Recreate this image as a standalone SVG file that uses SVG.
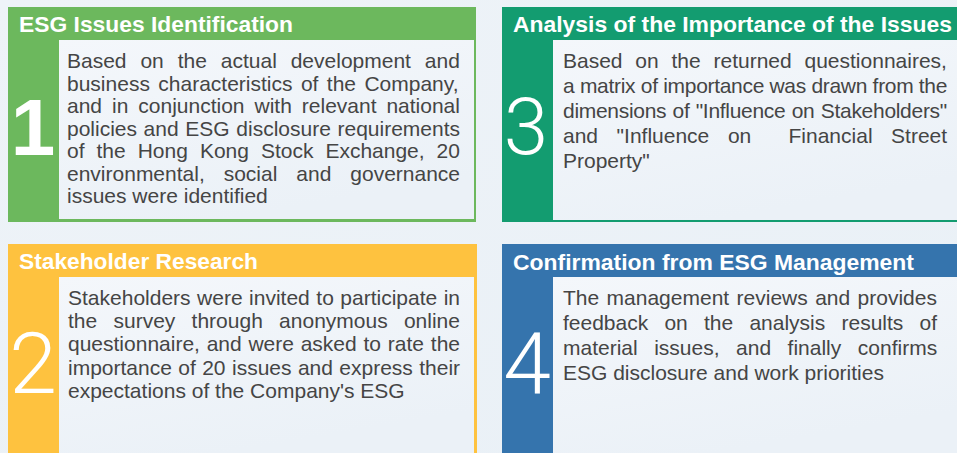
<svg xmlns="http://www.w3.org/2000/svg" width="957" height="453" viewBox="0 0 957 453">
  <defs>
    <linearGradient id="bg" x1="0" y1="0" x2="1" y2="1">
      <stop offset="0" stop-color="#eef3f8"/>
      <stop offset="1" stop-color="#e9f0f6"/>
    </linearGradient>
    <linearGradient id="panel" x1="0" y1="0" x2="0.4" y2="1">
      <stop offset="0" stop-color="#f4f7fb"/>
      <stop offset="1" stop-color="#ebf1f7"/>
    </linearGradient>
  </defs>
  <style>
    .head { font-family: "Liberation Sans", Arial, sans-serif; font-weight: bold; font-size: 22px; fill: #ffffff; }
    .body { font-family: "Liberation Sans", Arial, sans-serif; font-size: 21px; fill: #454545; }
    .tight { letter-spacing: -0.3px; }
    .num { font-family: Roboto, "Liberation Sans", sans-serif; font-weight: 300; fill: #ffffff; text-anchor: middle; }
    .num-bold { font-family: "Liberation Sans", Arial, sans-serif; font-weight: bold; fill: #ffffff; text-anchor: middle; }
    .panel { fill: url(#panel); }
  </style>

  <!-- page background -->
  <rect x="0" y="0" width="957" height="453" fill="url(#bg)"/>

  <!-- step 1 -->
  <g id="card-1">
    <rect x="8" y="7" width="468" height="215" fill="#6cb85d"/>
    <rect class="panel" x="59" y="40" width="415" height="179"/>
    <text class="head" x="19" y="32" textLength="274" lengthAdjust="spacingAndGlyphs">ESG Issues Identification</text>
    <text class="num-bold" x="33" y="155" font-size="80">1</text>
    <text class="body" y="68"><tspan x="67">Based</tspan><tspan x="140.4">on</tspan><tspan x="177.7">the</tspan><tspan x="220.8">actual</tspan><tspan x="290.7">development</tspan><tspan x="424.8">and</tspan></text>
    <text class="body" y="90.5"><tspan x="67">business</tspan><tspan x="158.3">characteristics</tspan><tspan x="300.9">of</tspan><tspan x="326.8">the</tspan><tspan x="364.4">Company,</tspan></text>
    <text class="body" y="113"><tspan x="67">and</tspan><tspan x="112">in</tspan><tspan x="138.3">conjunction</tspan><tspan x="254.5">with</tspan><tspan x="301.8">relevant</tspan><tspan x="386.4">national</tspan></text>
    <text class="body" y="135.5"><tspan x="67">policies</tspan><tspan x="143.6">and</tspan><tspan x="185.3">ESG</tspan><tspan x="236.3">disclosure</tspan><tspan x="337.5">requirements</tspan></text>
    <text class="body" y="158"><tspan x="67">of</tspan><tspan x="96.5">the</tspan><tspan x="137.7">Hong</tspan><tspan x="199.9">Kong</tspan><tspan x="260.9">Stock</tspan><tspan x="325.4">Exchange,</tspan><tspan x="436.6">20</tspan></text>
    <text class="body" y="180.5"><tspan x="67">environmental,</tspan><tspan x="223.7">social</tspan><tspan x="296.3">and</tspan><tspan x="350.3">governance</tspan></text>
    <text class="body" x="67" y="203">issues were identified</text>
  </g>

  <!-- step 3 -->
  <g id="card-3">
    <rect x="502" y="7" width="455" height="215" fill="#139c70"/>
    <rect class="panel" x="553" y="40" width="404" height="180"/>
    <text class="head" x="513" y="32" textLength="439" lengthAdjust="spacingAndGlyphs">Analysis of the Importance of the Issues</text>
    <text class="num" x="526" y="154" font-size="80">3</text>
    <text class="body" y="68.3"><tspan x="563">Based</tspan><tspan x="635.3">on</tspan><tspan x="671.5">the</tspan><tspan x="713.5">returned</tspan><tspan x="804.5">questionnaires,</tspan></text>
    <text class="body tight" y="93.2"><tspan x="563">a</tspan><tspan x="579.9">matrix</tspan><tspan x="640.8">of</tspan><tspan x="663.2">importance</tspan><tspan x="769.5">was</tspan><tspan x="811.4">drawn</tspan><tspan x="872.6">from</tspan><tspan x="918.8">the</tspan></text>
    <text class="body tight" y="118.1"><tspan x="563">dimensions</tspan><tspan x="672.5">of</tspan><tspan x="695.7">"Influence</tspan><tspan x="791.7">on</tspan><tspan x="820.8">Stakeholders"</tspan></text>
    <text class="body" y="143"><tspan x="563">and</tspan><tspan x="616.6">"Influence</tspan><tspan x="727.9">on</tspan><tspan x="788.5">Financial</tspan><tspan x="891.1">Street</tspan></text>
    <text class="body" x="563" y="167.9">Property"</text>
  </g>

  <!-- step 2 -->
  <g id="card-2">
    <rect x="8" y="244" width="469" height="209" fill="#fec23f"/>
    <rect class="panel" x="59" y="277" width="415" height="176"/>
    <text class="head" x="19" y="269" textLength="239" lengthAdjust="spacingAndGlyphs">Stakeholder Research</text>
    <text class="num" x="33" y="393" font-size="86">2</text>
    <text class="body" y="305"><tspan x="68">Stakeholders</tspan><tspan x="197.1">were</tspan><tspan x="249.1">invited</tspan><tspan x="316.3">to</tspan><tspan x="340.3">participate</tspan><tspan x="443.7">in</tspan></text>
    <text class="body" y="328.2"><tspan x="68">the</tspan><tspan x="113.5">survey</tspan><tspan x="191.6">through</tspan><tspan x="279.1">anonymous</tspan><tspan x="403.9">online</tspan></text>
    <text class="body" y="351.4"><tspan x="68">questionnaire,</tspan><tspan x="206.7">and</tspan><tspan x="248.4">were</tspan><tspan x="300.7">asked</tspan><tspan x="363.5">to</tspan><tspan x="387.8">rate</tspan><tspan x="430.8">the</tspan></text>
    <text class="body" y="374.6"><tspan x="68">importance</tspan><tspan x="178.3">of</tspan><tspan x="202.2">20</tspan><tspan x="232">issues</tspan><tspan x="297.9">and</tspan><tspan x="339.3">express</tspan><tspan x="419.2">their</tspan></text>
    <text class="body" x="68" y="397.8">expectations of the Company's ESG</text>
  </g>

  <!-- step 4 -->
  <g id="card-4">
    <rect x="502" y="244" width="455" height="209" fill="#3574ad"/>
    <rect class="panel" x="553" y="277" width="404" height="176"/>
    <text class="head" x="513" y="270" textLength="401" lengthAdjust="spacingAndGlyphs">Confirmation from ESG Management</text>
    <text class="num" x="527" y="393" font-size="86">4</text>
    <text class="body" y="305"><tspan x="563">The</tspan><tspan x="606.6">management</tspan><tspan x="736.6">reviews</tspan><tspan x="815.2">and</tspan><tspan x="857.6">provides</tspan></text>
    <text class="body" y="330"><tspan x="563">feedback</tspan><tspan x="664.4">on</tspan><tspan x="704">the</tspan><tspan x="749.4">analysis</tspan><tspan x="841.5">results</tspan><tspan x="919.5">of</tspan></text>
    <text class="body" y="355"><tspan x="563">material</tspan><tspan x="654.2">issues,</tspan><tspan x="736.1">and</tspan><tspan x="787.6">finally</tspan><tspan x="857.8">confirms</tspan></text>
    <text class="body" x="563" y="380">ESG disclosure and work priorities</text>
  </g>
</svg>
